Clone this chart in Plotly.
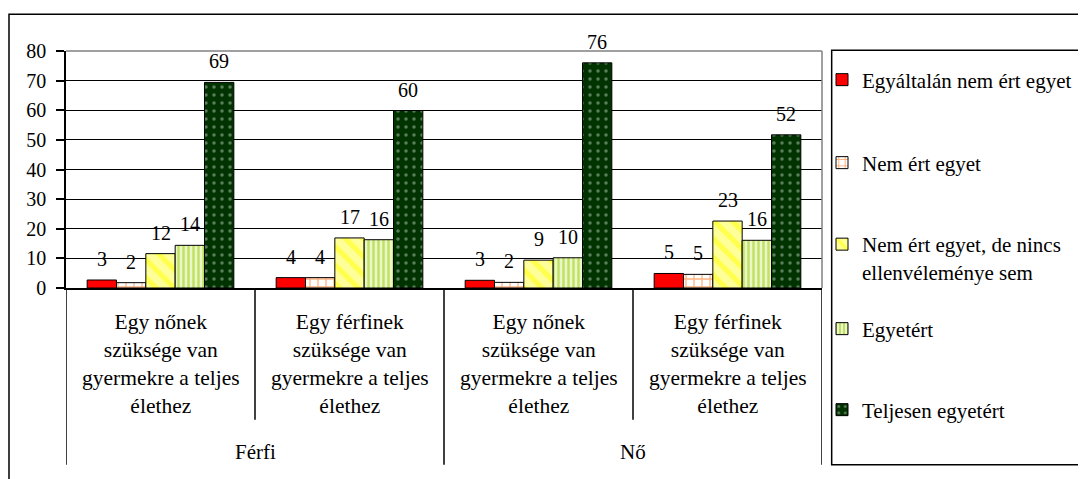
import plotly.graph_objects as go

# === Data
groups = ["Férfi", "Nő"]
statements = [
    "Egy nőnek<br>szüksége van<br>gyermekre a teljes<br>élethez",
    "Egy férfinek<br>szüksége van<br>gyermekre a teljes<br>élethez",
]
series_names = [
    "Egyáltalán nem ért egyet",
    "Nem ért egyet",
    "Nem ért egyet, de nincs<br>ellenvéleménye sem",
    "Egyetért",
    "Teljesen egyetért",
]
# one list per series, order: Férfi/nőnek, Férfi/férfinek, Nő/nőnek, Nő/férfinek
egyaltalan_nem = [2.7, 3.5, 2.6, 4.9]
nem_ert = [1.8, 3.5, 1.9, 4.6]
semleges = [11.6, 16.9, 9.4, 22.6]
egyetert = [14.4, 16.3, 10.2, 16.1]
teljesen = [69.4, 59.9, 76.0, 51.7]
y_ticks = [0, 10, 20, 30, 40, 50, 60, 70, 80]

values = [egyaltalan_nem, nem_ert, semleges, egyetert, teljesen]

# === Styles
styles = [
    dict(color="#FF0000", pattern=dict(shape="")),
    dict(color="#FFFFFF", pattern=dict(shape="+", fgcolor="#FF6600", size=8, solidity=0.3)),
    dict(color="#FFFF99", pattern=dict(shape="\\", fgcolor="#FFFF00", size=13, solidity=0.4)),
    dict(color="#EAF7C8", pattern=dict(shape="|", fgcolor="#99CC00", size=5, solidity=0.5)),
    dict(color="#003300", pattern=dict(shape=".", fgcolor="#B8C8B8", size=8, solidity=0.15)),
]
# vertical centre of each legend entry (px from top of the page)
legend_rows = [80, 163, 258, 329, 410]

FONT = "Liberation Serif, Times New Roman, DejaVu Serif, serif"
BARGAP = 0.224
H = 479
OFF = 8  # page body margin
n_cat = len(groups) * len(statements)
xs = list(range(n_cat))

fig = go.Figure()
legend_ids = ["legend"] + [f"legend{k}" for k in range(2, len(series_names) + 1)]
for k, (name, vals, st) in enumerate(zip(series_names, values, styles)):
    fig.add_trace(go.Bar(
        x=xs, y=vals, name=name, legend=legend_ids[k],
        marker=dict(color=st["color"], pattern=st["pattern"],
                    line=dict(color="black", width=1)),
        hoverinfo="y",
    ))

# data labels
w = (1 - BARGAP) / len(series_names)
annotations = []
for k, vals in enumerate(values):
    for i, v in enumerate(vals):
        annotations.append(dict(
            x=i + (k - 2) * w, y=v, xref="x", yref="y",
            text=f"{v:.0f}", showarrow=False, yshift=21,
            font=dict(family=FONT, size=20, color="black"),
        ))

# category labels
for i in xs:
    annotations.append(dict(
        x=i, y=-0.3215, xref="x", yref="paper", yanchor="middle",
        text=statements[i % len(statements)], showarrow=False,
        font=dict(family=FONT, size=21.5, color="black"),
    ))
for g, name in enumerate(groups):
    annotations.append(dict(
        x=g * len(statements) + (len(statements) - 1) / 2, y=-0.69,
        xref="x", yref="paper", yanchor="middle",
        text=name, showarrow=False,
        font=dict(family=FONT, size=21, color="black"),
    ))

shapes = []
# dividers under the axis
for i in range(n_cat + 1):
    outer = i % len(statements) == 0
    shapes.append(dict(
        type="line", xref="x", yref="paper",
        x0=i - 0.5, x1=i - 0.5, y0=0, y1=-0.746 if outer else -0.556,
        line=dict(color="black", width=1.5),
    ))
# grey plot-area border (top, right)
shapes.append(dict(type="line", xref="paper", yref="paper", x0=0, x1=1, y0=1, y1=1,
                   line=dict(color="#808080", width=1.5), layer="above"))
shapes.append(dict(type="line", xref="paper", yref="paper", x0=1, x1=1, y0=0, y1=1,
                   line=dict(color="#808080", width=1.5), layer="above"))
# legend box
shapes.append(dict(type="rect", xref="paper", yref="paper",
                   x0=1.0128, x1=1.6, y0=-0.746, y1=1.003,
                   line=dict(color="black", width=1.5)))
# outer chart border
shapes.append(dict(type="rect", xref="paper", yref="paper",
                   x0=-0.0754, x1=1.6, y0=-1.5, y1=1.1547,
                   line=dict(color="black", width=1.5)))

legend_style = dict(
    x=1.0, xanchor="left", yref="container", yanchor="middle",
    valign="top", font=dict(family=FONT, size=21, color="black"),
    bgcolor="rgba(0,0,0,0)", borderwidth=0, itemwidth=30,
)
legends = {}
for lid, py in zip(legend_ids, legend_rows):
    legends[lid] = dict(legend_style, y=1 - (py - OFF) / H)

fig.update_layout(
    width=1086, height=H,
    margin=dict(l=66 - OFF, r=1086 - 756 - (66 - OFF), t=51 - OFF,
                b=H - 237 - (51 - OFF), autoexpand=False),
    paper_bgcolor="white", plot_bgcolor="white",
    font=dict(family=FONT, size=20, color="black"),
    barmode="group", bargap=BARGAP, bargroupgap=0,
    showlegend=True,
    xaxis=dict(
        range=[-0.5, n_cat - 0.5], showticklabels=False, ticks="",
        showgrid=False, zeroline=False, showline=True, automargin=False,
        linecolor="black", linewidth=1.5,
    ),
    yaxis=dict(
        range=[0, 80], tickvals=y_ticks, ticks="outside", ticklen=8,
        tickcolor="black", tickwidth=1.5, showline=True, linecolor="black",
        linewidth=1.5, showgrid=True, gridcolor="black", gridwidth=1,
        zeroline=False, ticklabelstandoff=6, automargin=False,
        tickfont=dict(family=FONT, size=20, color="black"),
    ),
    annotations=annotations,
    shapes=shapes,
    **legends,
)

fig.write_html("out.html")
